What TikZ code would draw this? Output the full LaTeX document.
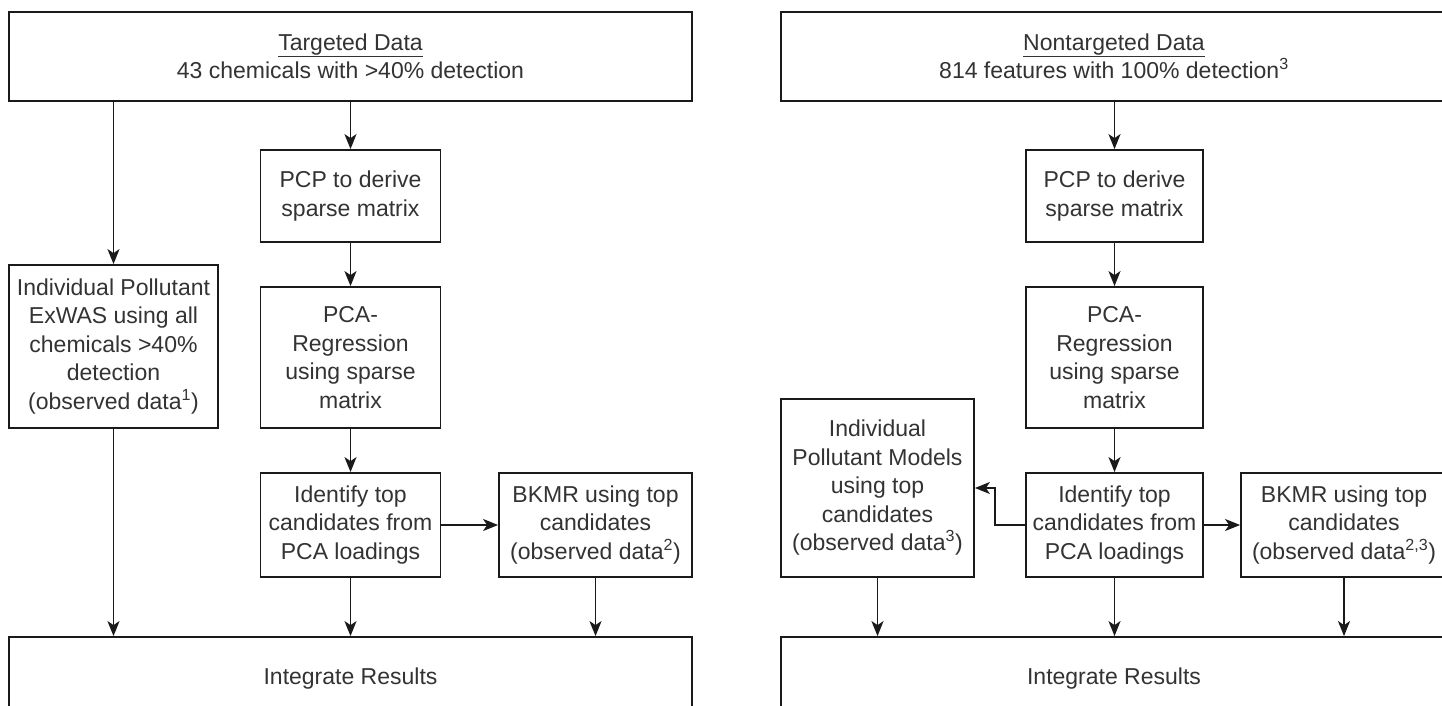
\documentclass[tikz,border=0pt]{standalone}
\usepackage{fontspec}
\setmainfont{Liberation Sans}
\usetikzlibrary{arrows.meta}
\definecolor{txt}{HTML}{333333}
\definecolor{ln}{HTML}{1A1A1A}
\begin{document}
\begin{tikzpicture}[x=1pt,y=-1pt,
  box/.style={draw=ln,line width=1.8pt,fill=white,inner sep=0pt,align=center,text=txt,
    font=\fontsize{23}{28.5}\selectfont},
  arr/.style={draw=ln,line width=1.6pt,-{Stealth[length=15pt,width=12pt,inset=4pt]}}]
\useasboundingbox (0,0) rectangle (1442,706);
\clip (0,0) rectangle (1442,706);
% ---------- left half ----------
\node[box,minimum width=683,minimum height=89] (t1) at (350.5,56.5)
  {\underline{Targeted Data}\\43 chemicals with >40\% detection};
\node[box,minimum width=209,minimum height=163] (ind1) at (113.5,346.5)
  {Individual Pollutant\\ExWAS using all\\chemicals >40\%\\detection\\(observed data\textsuperscript{1})};
\node[box,minimum width=180,minimum height=92] (pcp1) at (350.5,196)
  {PCP to derive\\sparse matrix};
\node[box,minimum width=180,minimum height=141] (pca1) at (350.5,357.5)
  {PCA-\\Regression\\using sparse\\matrix};
\node[box,minimum width=180,minimum height=104] (id1) at (350.5,525)
  {Identify top\\candidates from\\PCA loadings};
\node[box,minimum width=193,minimum height=104] (bk1) at (595.5,525)
  {BKMR using top\\candidates\\(observed data\textsuperscript{2})};
\node[box,minimum width=683,minimum height=83] (b1) at (350.5,678.5)
  {Integrate Results};
\draw[arr] (ind1.north |- t1.south) -- (ind1.north);
\draw[arr] (pcp1.north |- t1.south) -- (pcp1.north);
\draw[arr] (pcp1) -- (pca1);
\draw[arr] (pca1) -- (id1);
\draw[arr] (id1) -- (bk1);
\draw[arr] (ind1.south) -- (ind1.south |- b1.north);
\draw[arr] (id1.south) -- (id1.south |- b1.north);
\draw[arr] (bk1.south) -- (bk1.south |- b1.north);
% ---------- right half ----------
\node[box,minimum width=666,minimum height=89] (t2) at (1114,56.5)
  {\underline{Nontargeted Data}\\814 features with 100\% detection\textsuperscript{3}};
\node[box,minimum width=177,minimum height=92] (pcp2) at (1114.5,196)
  {PCP to derive\\sparse matrix};
\node[box,minimum width=177,minimum height=141] (pca2) at (1114.5,357.5)
  {PCA-\\Regression\\using sparse\\matrix};
\node[box,minimum width=177,minimum height=104] (id2) at (1114.5,525)
  {Identify top\\candidates from\\PCA loadings};
\node[box,minimum width=193,minimum height=178] (ind2) at (877.5,488)
  {Individual\\Pollutant Models\\using top\\candidates\\(observed data\textsuperscript{3})};
\node[box,minimum width=206,minimum height=104] (bk2) at (1344,525)
  {BKMR using top\\candidates\\(observed data\textsuperscript{2,3})};
\node[box,minimum width=666,minimum height=83] (b2) at (1114,678.5)
  {Integrate Results};
\draw[arr] (pcp2.north |- t2.south) -- (pcp2.north);
\draw[arr] (pcp2) -- (pca2);
\draw[arr] (pca2) -- (id2);
\draw[arr] (id2) -- (bk2);
\draw[arr] (id2.west) -- ++(-30,0) |- (ind2.east);
\draw[arr] (ind2.south) -- (ind2.south |- b2.north);
\draw[arr] (id2.south) -- (id2.south |- b2.north);
\draw[arr] (bk2.south) -- (bk2.south |- b2.north);
\end{tikzpicture}
\end{document}
